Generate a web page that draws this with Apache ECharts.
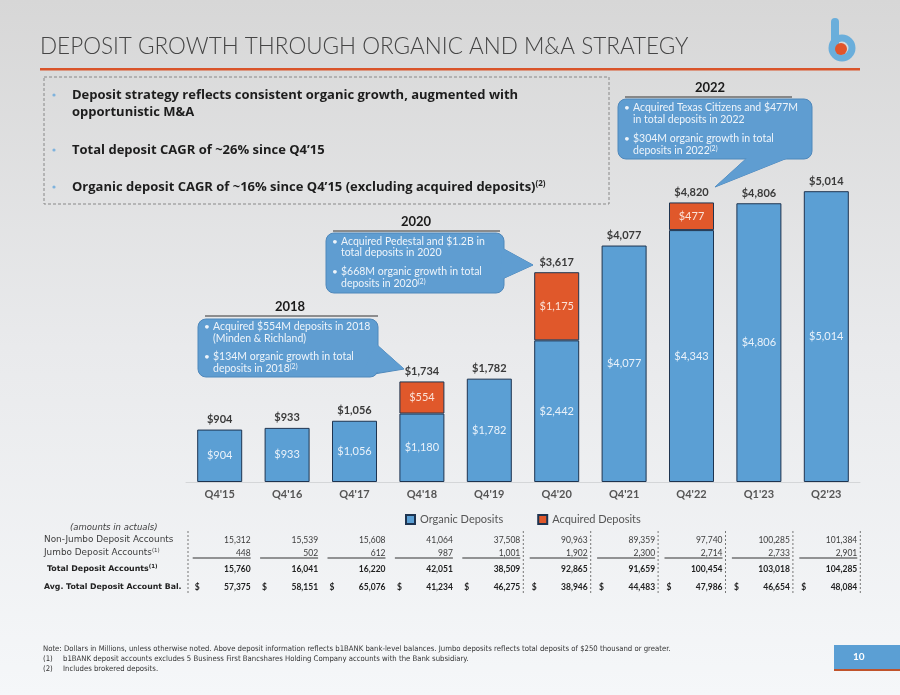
<!DOCTYPE html>
<html><head><meta charset="utf-8">
<script src="https://cdn.jsdelivr.net/npm/echarts@6/dist/echarts.min.js"></script>
<style>html,body{margin:0;padding:0;}#c{width:900px;height:695px;}</style>
</head><body><div id="c"></div>
<script>
const categories = ["Q4'15","Q4'16","Q4'17","Q4'18","Q4'19","Q4'20","Q4'21","Q4'22","Q1'23","Q2'23"];
const organic = [904,933,1056,1180,1782,2442,4077,4343,4806,5014];
const acquired = [null,null,null,554,null,1175,null,477,null,null];
const totals = [904,933,1056,1734,1782,3617,4077,4820,4806,5014];
const nonJumbo = ["15,312","15,539","15,608","41,064","37,508","90,963","89,359","97,740","100,285","101,384"];
const jumbo = ["448","502","612","987","1,001","1,902","2,300","2,714","2,733","2,901"];
const totalAccounts = ["15,760","16,041","16,220","42,051","38,509","92,865","91,659","100,454","103,018","104,285"];
const avgBalance = ["57,375","58,151","65,076","41,234","46,275","38,946","44,483","47,986","46,654","48,084"];

const FONT = 'Lato, "Noto Sans", sans-serif';
const BLUE = '#5b9fd4', ORANGE = '#e0582b', NAVY = '#1e3450', CALL = '#5f9dd1';
const fmt = v => '$' + v.toLocaleString('en-US');

const chart = echarts.init(document.getElementById('c'), null, {renderer:'canvas'});
chart.setOption({
  backgroundColor: new echarts.graphic.LinearGradient(0,0,0,1,[{offset:0,color:'#d7d7d7'},{offset:0.5,color:'#e9eaec'},{offset:1,color:'#f5f7f9'}]),
  animation: false,
  textStyle: {fontFamily: FONT},
  grid: {left: 186, right: 40, top: 163, bottom: 213},
  legend: {
    top: 509, left: 400, icon: 'rect', itemWidth: 9, itemHeight: 9, itemGap: 34,
    textStyle: {fontSize: 11, color: '#555', fontFamily: FONT},
    data: ['Organic Deposits','Acquired Deposits']
  },
  xAxis: {
    type: 'category', data: categories,
    axisLine: {show: true, lineStyle: {color: '#d4d6d8'}},
    axisTick: {show: false},
    axisLabel: {fontSize: 11, fontWeight: 'bold', color: '#555', margin: 7, fontFamily: FONT}
  },
  yAxis: {type: 'value', min: 0, max: 5500, show: false, splitLine: {show: false}},
  series: [
    {name: 'Organic Deposits', type: 'bar', stack: 'd', barWidth: 45, data: organic,
     itemStyle: {color: BLUE, borderColor: NAVY, borderWidth: 1},
     label: {show: true, position: 'inside', color: '#eaf2fa', fontSize: 11, fontFamily: FONT, formatter: p => fmt(p.value)}},
    {name: 'Acquired Deposits', type: 'bar', stack: 'd', barWidth: 45, data: acquired,
     itemStyle: {color: ORANGE, borderColor: NAVY, borderWidth: 1},
     label: {show: true, position: 'inside', color: '#fbe3d9', fontSize: 11, fontFamily: FONT, formatter: p => fmt(p.value)}},
    {name: 'Total', type: 'line', data: totals, symbol: 'circle', symbolSize: 1, silent: true,
     itemStyle: {color: 'rgba(0,0,0,0)'}, lineStyle: {opacity: 0},
     label: {show: true, position: 'top', distance: 4, color: '#3a3a3a', fontSize: 11, fontWeight: 'bold', fontFamily: FONT, formatter: p => fmt(p.value)}}
  ]
});

const g = [];
// title
g.push({type:'text', left: 40, top: 35, style:{text:'DEPOSIT GROWTH THROUGH ORGANIC AND M&A STRATEGY', font:'300 22.5px ' + FONT, fill:'#454545'}});
g.push({type:'rect', shape:{x:40,y:68,width:820,height:2.5}, style:{fill:'#d9542a'}});
// logo
g.push({type:'line', shape:{x1:835,y1:22,x2:835,y2:48}, style:{stroke:'#6aaedb', lineWidth:8, lineCap:'round'}});
g.push({type:'circle', shape:{cx:842,cy:48,r:10}, style:{fill:'none', stroke:'#6aaedb', lineWidth:7}});
g.push({type:'circle', shape:{cx:841,cy:49,r:6}, style:{fill:'#e2552b'}});
// bullet box
const BF = 'bold 13px "Open Sans", Lato, sans-serif';
g.push({type:'rect', shape:{x:44,y:77,width:565,height:127}, style:{fill:'none', stroke:'#888', lineWidth:1, lineDash:[3,2]}});
const bullets = [[95,'Deposit strategy reflects consistent organic growth, augmented with',true],[112,'opportunistic M&A',false],[150,'Total deposit CAGR of ~26% since Q4\u201915',true]];
bullets.forEach(b => {
  if (b[2]) g.push({type:'circle', shape:{cx:54,cy:b[0],r:1.6}, style:{fill:'#7fb3dd'}});
  g.push({type:'text', x:72, y:b[0], style:{text:b[1], font:BF, fill:'#1d1d1d', verticalAlign:'middle'}});
});
g.push({type:'circle', shape:{cx:54,cy:187,r:1.6}, style:{fill:'#7fb3dd'}});
g.push({type:'text', x:72, y:187, style:{text:'{a|Organic deposit CAGR of ~16% since Q4\u201915 (excluding acquired deposits)}{s|(2)}', verticalAlign:'middle',
  rich:{a:{font:BF, fill:'#1d1d1d'}, s:{font:'bold 8px "Open Sans", sans-serif', fill:'#1d1d1d', verticalAlign:'top', padding:[0,0,6,0]}}}});

// callouts
function callout(year, hx, hy, lx1, lx2, box, ptr, lines) {
  g.push({type:'text', x:hx, y:hy, style:{text:year, font:'bold 13px '+FONT, fill:'#1a1a1a', align:'center', verticalAlign:'middle'}});
  g.push({type:'line', shape:{x1:lx1,y1:hy+9,x2:lx2,y2:hy+9}, style:{stroke:'#333', lineWidth:1}});
  g.push({type:'polygon', shape:{points:ptr}, style:{fill:CALL, stroke:'#4f88bb', lineWidth:1}});
  g.push({type:'rect', shape:{x:box[0],y:box[1],width:box[2],height:box[3],r:8}, style:{fill:CALL, stroke:'#4f88bb', lineWidth:1}});
  g.push({type:'polygon', shape:{points:ptr.map((p,i)=> i===1? p : [p[0] + (p[0] > box[0]+box[2]-2 ? -2 : 0), p[1] + (p[1] > box[1]+box[3]-2 ? -2 : 0)])}, style:{fill:CALL}});
  lines.forEach(l => {
    if (l[2]) g.push({type:'text', x:box[0]+6, y:l[0], style:{text:'\u2022', font:'10px '+FONT, fill:'#eef4fa', verticalAlign:'middle'}});
    g.push({type:'text', x:box[0]+15, y:l[0], style:{text:l[1], verticalAlign:'middle',
      rich:{a:{font:'10.5px '+FONT, fill:'#eef4fa'}, s:{font:'7px '+FONT, fill:'#eef4fa', verticalAlign:'top', padding:[0,0,4,0]}}}});
  });
}
callout('2018', 290, 307, 205, 378, [198,319,180,58], [[376,344],[404,369],[362,376]],
  [[327,'{a|Acquired $554M deposits in 2018}',true],[339,'{a|(Minden & Richland)}',false],[357,'{a|$134M organic growth in total}',true],[369,'{a|deposits in 2018}{s|(2)}',false]]);
callout('2020', 416, 222, 333, 500, [326,233,178,60], [[502,248],[533,265],[500,280]],
  [[242,'{a|Acquired Pedestal and $1.2B in}',true],[253,'{a|total deposits in 2020}',false],[272,'{a|$668M organic growth in total}',true],[284,'{a|deposits in 2020}{s|(2)}',false]]);
callout('2022', 710, 88, 625, 792, [618,99,194,60], [[748,157],[715,187],[790,157]],
  [[108,'{a|Acquired Texas Citizens and $477M}',true],[120,'{a|in total deposits in 2022}',false],[139,'{a|$304M organic growth in total}',true],[151,'{a|deposits in 2022}{s|(2)}',false]]);

// table
const LF = '"DejaVu Sans", sans-serif';
const TF = '8.5px ' + FONT, TB = 'bold 8.5px ' + FONT, TC = '#3c3c3c';
g.push({type:'text', x:70, y:528, style:{text:'(amounts in actuals)', font:'italic 8.5px '+LF, fill:TC, verticalAlign:'middle'}});
g.push({type:'text', x:44, y:540, style:{text:'Non-Jumbo Deposit Accounts', font:'8.9px '+LF, fill:TC, verticalAlign:'middle'}});
g.push({type:'text', x:44, y:553, style:{text:'{a|Jumbo Deposit Accounts}{s|(1)}', verticalAlign:'middle', rich:{a:{font:'8.9px '+LF,fill:TC}, s:{font:'5.5px '+LF, fill:TC, verticalAlign:'top', padding:[0,0,4,0]}}}});
g.push({type:'text', x:47, y:569, style:{text:'{a|Total Deposit Accounts}{s|(1)}', verticalAlign:'middle', rich:{a:{font:'bold 7.9px '+LF,fill:'#222'}, s:{font:'bold 5.5px '+LF, fill:'#222', verticalAlign:'top', padding:[0,0,4,0]}}}});
g.push({type:'text', x:44, y:587, style:{text:'Avg. Total Deposit Account Bal.', font:'bold 7.8px '+LF, fill:'#222', verticalAlign:'middle'}});
const sepX = [188];
categories.forEach((c, i) => {
  const cx = chart.convertToPixel({xAxisIndex:0}, c);
  const rx = cx + 31;
  g.push({type:'text', x:rx, y:540, style:{text:nonJumbo[i], font:TF, fill:TC, align:'right', verticalAlign:'middle'}});
  g.push({type:'text', x:rx, y:553, style:{text:jumbo[i], font:TF, fill:TC, align:'right', verticalAlign:'middle'}});
  g.push({type:'line', shape:{x1:cx-27,y1:558,x2:rx,y2:558}, style:{stroke:'#333', lineWidth:1}});
  g.push({type:'text', x:rx, y:569, style:{text:totalAccounts[i], font:TB, fill:'#222', align:'right', verticalAlign:'middle'}});
  g.push({type:'text', x:cx-25, y:587, style:{text:'$', font:TB, fill:'#222', verticalAlign:'middle'}});
  g.push({type:'text', x:rx, y:587, style:{text:avgBalance[i], font:TB, fill:'#222', align:'right', verticalAlign:'middle'}});
  if (i >= 4) sepX.push(cx + 34);
});
sepX.forEach(x => g.push({type:'line', shape:{x1:x,y1:531,x2:x,y2:594}, style:{stroke:'#777', lineWidth:1, lineDash:[2,2]}}));

// footnotes
const FN = '7.7px "Liberation Sans Narrow", "DejaVu Sans Condensed", sans-serif';
g.push({type:'text', x:43, y:649, style:{text:'Note: Dollars in Millions, unless otherwise noted. Above deposit information reflects b1BANK bank-level balances. Jumbo deposits reflects total deposits of $250 thousand or greater.', font:FN, fill:'#333', verticalAlign:'middle'}});
g.push({type:'text', x:43, y:659, style:{text:'(1)', font:FN, fill:'#333', verticalAlign:'middle'}});
g.push({type:'text', x:63, y:659, style:{text:'b1BANK deposit accounts excludes 5 Business First Bancshares Holding Company accounts with the Bank subsidiary.', font:FN, fill:'#333', verticalAlign:'middle'}});
g.push({type:'text', x:43, y:669, style:{text:'(2)', font:FN, fill:'#333', verticalAlign:'middle'}});
g.push({type:'text', x:63, y:669, style:{text:'Includes brokered deposits.', font:FN, fill:'#333', verticalAlign:'middle'}});
// page number
g.push({type:'rect', shape:{x:834,y:645,width:66,height:24}, style:{fill:'#5b9fd4'}});
g.push({type:'rect', shape:{x:834,y:669,width:66,height:2}, style:{fill:'#c0532b'}});
g.push({type:'text', x:853, y:657, style:{text:'10', font:'bold 10px '+FONT, fill:'#fff', verticalAlign:'middle'}});

chart.setOption({graphic: g});
</script></body></html>
